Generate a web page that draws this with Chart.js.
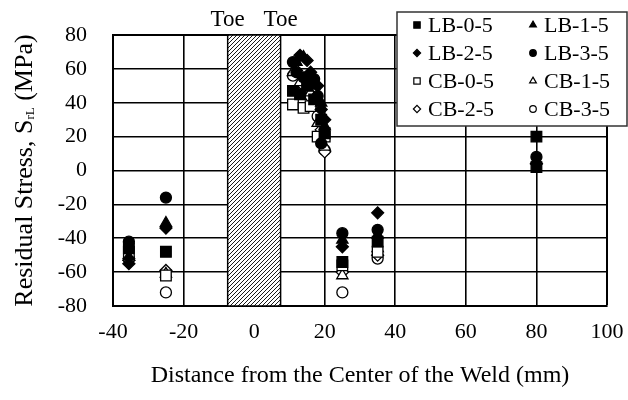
<!DOCTYPE html>
<html>
<head>
<meta charset="utf-8">
<script src="https://cdn.jsdelivr.net/npm/chart.js@4/dist/chart.umd.min.js"></script>
<style>
  body { margin: 0; background: #fff; }
</style>
</head>
<body>
<canvas id="chart" width="628" height="400"></canvas>
<script>
// Residual stress readings, [distance from weld centre (mm), stress (MPa)]
const lb05 = [[-35.5, -46], [-25, -48], [11, 47], [13, 45], [15, 50], [17, 42], [19, 30], [20, 22], [25, -54], [35, -42], [80, 20], [80, 2]];
const lb15 = [[-35.5, -51], [-25, -31], [12, 64], [14, 67], [16, 56], [17, 50], [19, 40], [20, 26], [25, -41], [35, -38], [80, 6]];
const lb25 = [[-35.5, -55], [-25, -34], [13, 68], [15, 65], [16, 58], [18, 50], [19, 36], [20, 30], [25, -45], [35, -25], [80, 4]];
const lb35 = [[-35.5, -42], [-25, -16], [11, 64], [12, 58], [14, 55], [17, 54], [18, 44], [19, 16], [25, -37], [35, -35], [80, 8]];
const cb05 = [[-35.5, -48], [-25, -62], [11, 39], [14, 37], [16, 38], [18, 20], [20, 20], [25, -56], [35, -48]];
const cb15 = [[-35.5, -50], [-25, -61], [11, 58], [13, 52], [16, 46], [18, 28], [20, 14], [25, -62], [35, -46]];
const cb25 = [[-35.5, -53], [-25, -59], [12, 59], [14, 50], [17, 40], [19, 24], [20, 11], [25, -60], [35, -50]];
const cb35 = [[-35.5, -52], [-25, -72], [11, 56], [13, 48], [16, 44], [18, 32], [20, 12], [25, -72], [35, -52]];

const seriesNames = ['LB-0-5', 'LB-1-5', 'LB-2-5', 'LB-3-5', 'CB-0-5', 'CB-1-5', 'CB-2-5', 'CB-3-5'];
const seriesData = [lb05, lb15, lb25, lb35, cb05, cb15, cb25, cb35];
const markers = ['rect', 'triangle', 'rectRot', 'circle', 'rect', 'triangle', 'rectRot', 'circle'];

// weld edges (mm) - the toes
const weldEdges = [-7.5, 7.5];
const toeLabels = ['Toe', 'Toe'];

const xTicks = { min: -40, max: 100, step: 20 };
const yTicks = { min: -80, max: 80, step: 20 };

const FONT = 'Liberation Serif';
const markerSize = { rect: 7.5, triangle: 6.5, rectRot: 6, circle: 5.5 };

Chart.defaults.font.family = FONT;
Chart.defaults.color = '#000';

const datasets = seriesData.map((pts, i) => {
  const open = seriesNames[i].startsWith('CB');
  return {
    label: seriesNames[i],
    data: pts.map(p => ({ x: p[0], y: p[1] })),
    pointStyle: markers[i],
    pointRadius: markerSize[markers[i]],
    pointBorderWidth: 1.3,
    borderColor: '#000',
    backgroundColor: open ? '#fff' : '#000',
    pointBorderColor: '#000',
    pointBackgroundColor: open ? '#fff' : '#000',
    // filled markers sit on top of the open ones
    order: open ? 1 : 0
  };
});

// hatched block for the weld, plus the "Toe" labels on top
const weldPlugin = {
  id: 'weld',
  beforeDatasetsDraw(chart) {
    const ctx = chart.ctx;
    const x = chart.scales.x;
    const { top, bottom } = chart.chartArea;
    const x0 = x.getPixelForValue(weldEdges[0]);
    const x1 = x.getPixelForValue(weldEdges[1]);

    const tile = document.createElement('canvas');
    tile.width = 4; tile.height = 4;
    const t = tile.getContext('2d');
    t.fillStyle = '#fff';
    t.fillRect(0, 0, 4, 4);
    t.strokeStyle = '#000';
    t.lineWidth = 0.9;
    t.beginPath();
    t.moveTo(-1, 5); t.lineTo(5, -1);
    t.moveTo(-1, 1); t.lineTo(1, -1);
    t.moveTo(3, 5); t.lineTo(5, 3);
    t.stroke();

    ctx.save();
    ctx.fillStyle = ctx.createPattern(tile, 'repeat');
    ctx.fillRect(x0, top, x1 - x0, bottom - top);
    ctx.strokeStyle = '#000';
    ctx.lineWidth = 1.5;
    ctx.strokeRect(x0, top, x1 - x0, bottom - top);

    ctx.fillStyle = '#000';
    ctx.font = '23px "' + FONT + '"';
    ctx.textAlign = 'center';
    ctx.textBaseline = 'middle';
    weldEdges.forEach((e, i) => ctx.fillText(toeLabels[i], x.getPixelForValue(e), 20));
    ctx.restore();
  }
};

// two-column legend box in the top right corner
const legendPlugin = {
  id: 'legendBox',
  afterDatasetsDraw(chart) {
    const ctx = chart.ctx;
    ctx.save();
    ctx.fillStyle = '#fff';
    ctx.strokeStyle = '#333';
    ctx.lineWidth = 1.5;
    ctx.fillRect(397, 12, 230, 114);
    ctx.strokeRect(397, 12, 230, 114);
    ctx.font = '22px "' + FONT + '"';
    ctx.textBaseline = 'middle';
    ctx.textAlign = 'left';
    chart.data.datasets.forEach((ds, i) => {
      const mx = 417 + (i % 2) * 116;
      const my = 25 + Math.floor(i / 2) * 28;
      ctx.fillStyle = ds.pointBackgroundColor;
      ctx.strokeStyle = '#000';
      ctx.lineWidth = 1.2;
      Chart.helpers.drawPoint(ctx, {
        pointStyle: ds.pointStyle,
        radius: ds.pointRadius * 0.6,
        borderWidth: 1.2,
        rotation: 0
      }, mx, my);
      ctx.fillStyle = '#000';
      ctx.fillText(ds.label, mx + 11, my + 1);
    });
    ctx.restore();
  }
};

// rotated y-axis title with the subscript
const yTitlePlugin = {
  id: 'yTitle',
  afterDraw(chart) {
    const ctx = chart.ctx;
    const { top, bottom } = chart.chartArea;
    const parts = [
      ['Residual Stress, S', '26px "' + FONT + '"', 0],
      ['rL', '13px "' + FONT + '"', 6],
      [' (MPa)', '26px "' + FONT + '"', 0]
    ];
    ctx.save();
    ctx.translate(25, (top + bottom) / 2);
    ctx.rotate(-Math.PI / 2);
    ctx.textBaseline = 'middle';
    ctx.textAlign = 'left';
    ctx.fillStyle = '#000';
    let total = 0;
    parts.forEach(p => { ctx.font = p[1]; total += ctx.measureText(p[0]).width; });
    let pos = -total / 2;
    parts.forEach(p => {
      ctx.font = p[1];
      ctx.fillText(p[0], pos, p[2]);
      pos += ctx.measureText(p[0]).width;
    });
    ctx.restore();
  }
};

new Chart(document.getElementById('chart'), {
  type: 'scatter',
  data: { datasets: datasets },
  plugins: [weldPlugin, legendPlugin, yTitlePlugin],
  options: {
    responsive: false,
    animation: false,
    devicePixelRatio: 1,
    layout: { padding: { top: 35, right: 21, left: 0, bottom: 0 } },
    plugins: {
      legend: { display: false },
      tooltip: { enabled: false }
    },
    scales: {
      x: {
        type: 'linear',
        min: xTicks.min,
        max: xTicks.max,
        afterFit(scale) {
          scale.height = 94;
          scale.paddingLeft = 0;
          scale.paddingRight = 0;
        },
        ticks: {
          stepSize: xTicks.step,
          padding: 13,
          font: { size: 22 },
          color: '#000'
        },
        grid: {
          color: '#000',
          drawTicks: false,
          lineWidth: c => (c.tick && c.tick.value === xTicks.max ? 2 : 1.6)
        },
        border: { color: '#000', width: 2 },
        title: {
          display: true,
          text: 'Distance from the Center of the Weld (mm)',
          font: { size: 24 },
          color: '#000',
          padding: { top: 0, bottom: 10 }
        }
      },
      y: {
        type: 'linear',
        min: yTicks.min,
        max: yTicks.max,
        afterFit(scale) {
          scale.width = 113;
          scale.paddingTop = 0;
          scale.paddingBottom = 0;
        },
        ticks: {
          stepSize: yTicks.step,
          padding: 26,
          font: { size: 22 },
          color: '#000'
        },
        grid: {
          color: '#000',
          drawTicks: false,
          lineWidth: c => (c.tick && c.tick.value === yTicks.max ? 2 : 1.6)
        },
        border: { color: '#000', width: 2 }
      }
    }
  }
});
</script>
</body>
</html>
